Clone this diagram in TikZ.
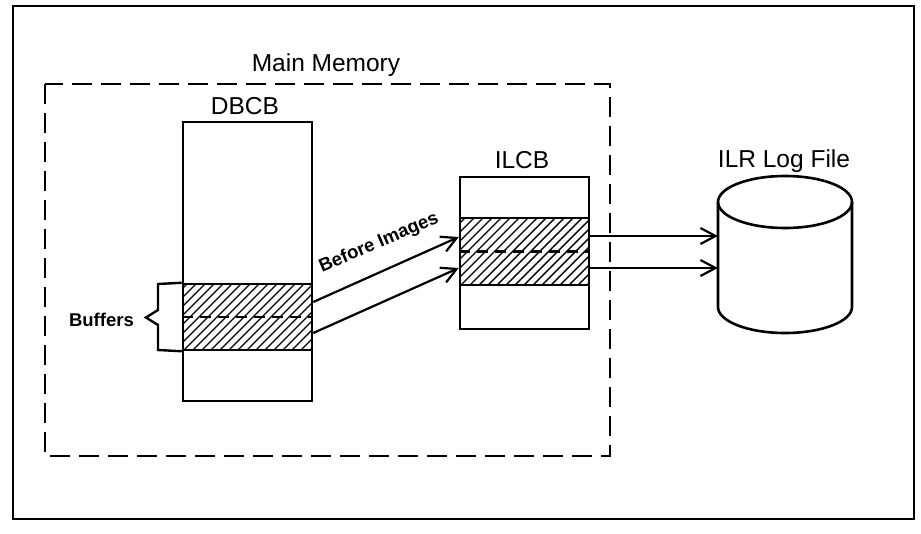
\documentclass[tikz,border=0pt]{standalone}
\usepackage{fontspec}
\setmainfont{Liberation Sans}
\usetikzlibrary{arrows.meta,calc}
\begin{document}
\begin{tikzpicture}[x=1pt,y=-1pt,
  box/.style={draw, line width=2.5pt, inner sep=0pt, rectangle},
  lbl/.style={font=\fontsize{24.5}{28}\selectfont, inner sep=0pt, anchor=base},
  blbl/.style={font=\bfseries\fontsize{18.5}{22}\selectfont, inner sep=0pt},
  arr/.style={line width=2.2pt, -{Straight Barb[length=15pt,width=16pt,line width=2.2pt]}},
  midline/.style={line width=2.2pt, dash pattern=on 11pt off 7pt},
  hatchline/.style={line width=1.4pt}]
\useasboundingbox (0,0) rectangle (921,533);
% outer frame
\draw[line width=2.8pt] (13,6) rectangle (914,519);
% main memory dashed box
\draw[line width=2.9pt, dash pattern=on 20pt off 9pt] (45,84) rectangle (610,456);
\node[lbl] (mm) at (326,71) {Main Memory};
% DBCB
\node[box, minimum width=129pt, minimum height=279pt] (dbcb) at (247.5,261.5) {};
\node[lbl] (dbcbl) at (245,114) {DBCB};
\begin{scope}
  \clip (183,284) rectangle (312,350);
  \foreach \i in {-90,-81,...,150} \draw[hatchline] (183+\i,360) -- ++(90,-90);
\end{scope}
\node[box, minimum width=129pt, minimum height=66pt] (buf) at (247.5,317) {};
\draw[midline] (buf.west) -- (buf.east);
% Buffers brace
\draw[line width=2.4pt] (buf.north west) -- (158,284) -- (158,310) -- (146,317.5) -- (158,325) -- (158,350) -- (buf.south west);
\coordinate (bp) at (146,317.5);
\node[blbl, anchor=east] (bufl) at ($(bp)+(-12,2)$) {Buffers};
% ILCB
\node[box, minimum width=129pt, minimum height=152pt] (ilcb) at (524.5,253) {};
\node[lbl] (ilcbl) at (522,168) {ILCB};
\begin{scope}
  \clip (460,218) rectangle (589,285);
  \foreach \i in {-90,-81,...,150} \draw[hatchline] (460+\i,295) -- ++(90,-90);
\end{scope}
\node[box, minimum width=129pt, minimum height=67pt] (ibuf) at (524.5,251.5) {};
\draw[midline] (ibuf.west) -- (ibuf.east);
% cylinder
\draw[line width=2.6pt] (718,202) -- (718,307) arc[start angle=180, end angle=0, x radius=67, y radius=26] -- (852,202);
\draw[line width=2.6pt] (785,202) ellipse [x radius=67, y radius=26];
\node[inner sep=0pt, minimum width=134pt, minimum height=157pt] (log) at (785,254.5) {};
\node[lbl] (logl) at (784,167) {ILR Log File};
% arrows
\draw[arr] (buf.east |- 0,302) -- (ibuf.west |- 0,237);
\draw[arr] (buf.east |- 0,333) -- (ibuf.west |- 0,268);
\node[blbl, rotate=23] (bi) at (379,243) {Before Images};
\draw[arr] (ibuf.east |- 0,236) -- (log.west |- 0,236);
\draw[arr] (ibuf.east |- 0,268) -- (log.west |- 0,268);
\end{tikzpicture}
\end{document}
